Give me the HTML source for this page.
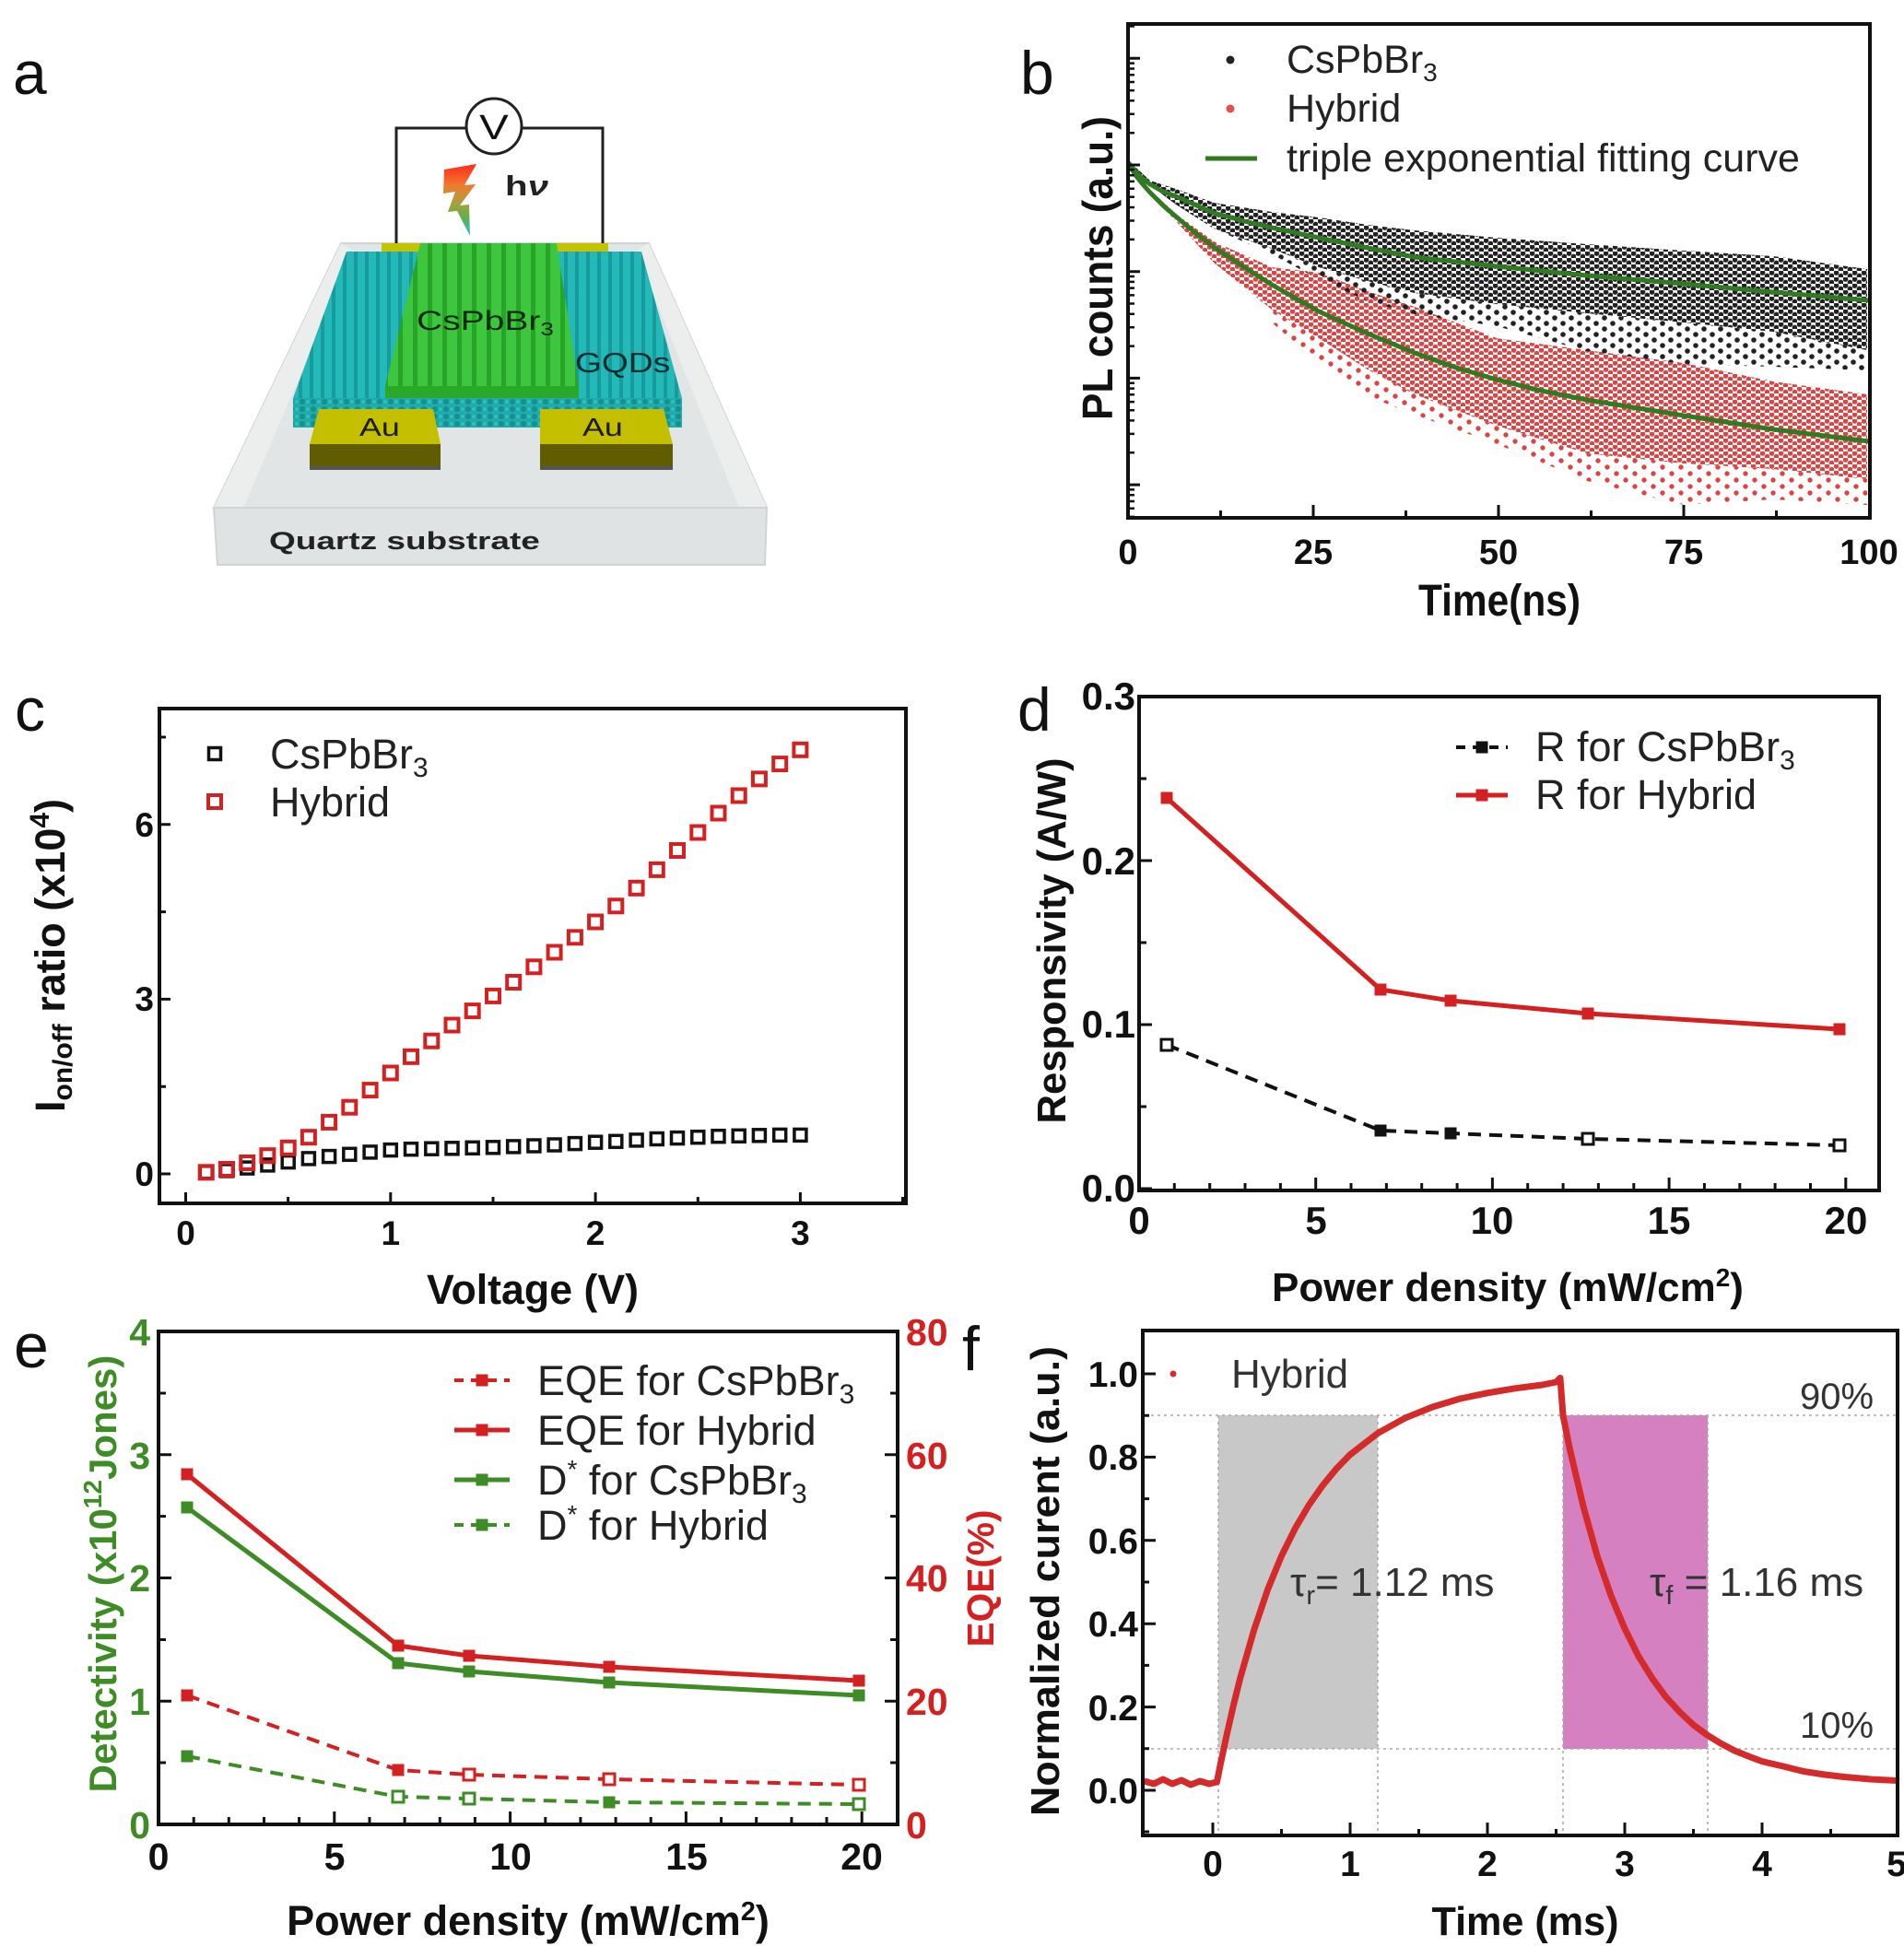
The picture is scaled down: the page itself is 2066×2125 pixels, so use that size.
<!DOCTYPE html>
<html><head><meta charset="utf-8">
<style>
html,body{margin:0;padding:0;background:#fff;}
svg{display:block;}
text{font-family:"Liberation Sans",Arial,sans-serif;}
</style></head><body>
<svg width="2066" height="2125" viewBox="0 0 2066 2125" xmlns="http://www.w3.org/2000/svg">
<defs>
  <linearGradient id="bolt" x1="0" y1="0" x2="0" y2="1">
    <stop offset="0" stop-color="#ff2a1a"/>
    <stop offset="0.3" stop-color="#f07a30"/>
    <stop offset="0.55" stop-color="#a8a040"/>
    <stop offset="0.75" stop-color="#60b048"/>
    <stop offset="1" stop-color="#30b8e8"/>
  </linearGradient>
  <pattern id="gqd" width="12" height="10" patternUnits="userSpaceOnUse">
    <rect width="12" height="10" fill="#25b8b8"/>
    <rect x="0" y="0" width="4" height="10" fill="#169c9c"/>
  </pattern>
  <pattern id="gqdf" width="12" height="8" patternUnits="userSpaceOnUse">
    <rect width="12" height="8" fill="#20aaaa"/>
    <circle cx="4" cy="4" r="3" fill="#168f8f"/>
    <circle cx="10" cy="4" r="2" fill="#2cc0c0"/>
  </pattern>
  <pattern id="csp" width="16" height="10" patternUnits="userSpaceOnUse">
    <rect width="16" height="10" fill="#3ec63e"/>
    <rect x="0" y="0" width="5" height="10" fill="#27a527"/>
  </pattern>
  <pattern id="pk" width="10" height="7" patternUnits="userSpaceOnUse">
    <circle cx="2.5" cy="2" r="2.9" fill="#222"/>
    <circle cx="7.5" cy="5.5" r="2.9" fill="#222"/>
  </pattern>
  <pattern id="pks" width="18" height="12" patternUnits="userSpaceOnUse">
    <circle cx="4" cy="3" r="2.8" fill="#222"/>
    <circle cx="13" cy="9" r="2.8" fill="#222"/>
  </pattern>
  <pattern id="pr" width="10" height="7" patternUnits="userSpaceOnUse">
    <circle cx="2.5" cy="2" r="2.8" fill="#dc4444"/>
    <circle cx="7.5" cy="5.5" r="2.8" fill="#dc4444"/>
  </pattern>
  <pattern id="prs" width="20" height="14" patternUnits="userSpaceOnUse">
    <circle cx="4" cy="3" r="2.7" fill="#dc4444"/>
    <circle cx="14" cy="10" r="2.7" fill="#dc4444"/>
  </pattern>
  <rect id="sqR" x="-7" y="-7" width="14" height="14" fill="none" stroke="#d42020" stroke-width="4"/>
  <rect id="sqK" x="-6.5" y="-6.5" width="13" height="13" fill="none" stroke="#111" stroke-width="3.5"/>
  <rect id="fR" x="-6.5" y="-6.5" width="13" height="13" fill="#d42020"/>
  <rect id="fK" x="-6.5" y="-6.5" width="13" height="13" fill="#111"/>
  <rect id="oK" x="-6" y="-6" width="12" height="12" fill="#fff" stroke="#111" stroke-width="3"/>
  <rect id="fG" x="-6.5" y="-6.5" width="13" height="13" fill="#3d8c26"/>
  <rect id="oR" x="-6" y="-6" width="12" height="12" fill="#fff" stroke="#d42020" stroke-width="3"/>
  <rect id="oG" x="-6" y="-6" width="12" height="12" fill="#fff" stroke="#3d8c26" stroke-width="3"/>
</defs>
<rect width="2066" height="2125" fill="#fff"/>

<!-- Panel labels -->
<g fill="#111">
<text x="14" y="102" font-size="66">a</text>
<text x="1107" y="102" font-size="66">b</text>
<text x="16" y="793" font-size="66">c</text>
<text x="1104" y="793" font-size="66">d</text>
<text x="15" y="1484" font-size="68">e</text>
<text x="1044" y="1487" font-size="68">f</text>
</g>

<!-- ================= Panel a ================= -->
<g>
  <polygon points="370,264 704,264 832,551 232,551" fill="#e2e5e5" stroke="#d0d4d4" stroke-width="2"/>
  <polygon points="370,264 384,272 264,551 232,551" fill="#eceeee"/>
  <polygon points="704,264 690,272 802,551 832,551" fill="#eceeee"/>
  <polygon points="232,551 832,551 830,613 236,613" fill="#e0e3e3" stroke="#d0d4d4" stroke-width="2"/>
  <rect x="414" y="264" width="46" height="14" fill="#c5c200"/>
  <rect x="604" y="264" width="56" height="14" fill="#c5c200"/>
  <polygon points="318,432 740,432 740,464 318,464" fill="url(#gqdf)"/>
  <polygon points="376,273 696,273 740,432 318,432" fill="url(#gqd)"/>
  <polygon points="418,419 628,419 628,432 418,432" fill="#2aa82a"/>
  <polygon points="456,264 604,264 628,419 418,419" fill="url(#csp)"/>
  <polygon points="346,444 470,444 478,482 336,482" fill="#c4c000"/>
  <rect x="336" y="482" width="142" height="24" fill="#5f5d00"/>
  <rect x="336" y="506" width="142" height="4" fill="#555"/>
  <polygon points="586,444 720,444 730,482 586,482" fill="#c4c000"/>
  <rect x="586" y="482" width="144" height="24" fill="#5f5d00"/>
  <rect x="586" y="506" width="144" height="4" fill="#555"/>
  <polyline points="430,264 430,139 506,139" fill="none" stroke="#222" stroke-width="3"/>
  <polyline points="566,139 654,139 654,264" fill="none" stroke="#222" stroke-width="3"/>
  <circle cx="536" cy="137" r="30" fill="#fff" stroke="#222" stroke-width="3"/>
  <text transform="translate(536,151) scale(1.25,1)" text-anchor="middle" font-size="38" fill="#111">V</text>
  <polygon points="482,184 517,178 504,201 516,200 499,223 509,222 510,256 496,229 486,230 494,208 481,210" fill="url(#bolt)"/>
  <text transform="translate(548,212) scale(1.3,1)" font-size="31" font-weight="bold" fill="#222">h<tspan font-style="italic">ν</tspan></text>
  <text transform="translate(452,358) scale(1.3,1)" font-size="30" fill="#0d2a0d">CsPbBr<tspan font-size="20" dy="6">3</tspan></text>
  <text transform="translate(624,404) scale(1.2,1)" font-size="31" fill="#062c2c">GQDs</text>
  <text transform="translate(390,473) scale(1.28,1)" font-size="28" fill="#1a1a00">Au</text>
  <text transform="translate(632,473) scale(1.28,1)" font-size="28" fill="#1a1a00">Au</text>
  <text transform="translate(292,596) scale(1.37,1)" font-size="27" font-weight="bold" fill="#222">Quartz substrate</text>
</g>

<!-- ================= Panel b ================= -->
<g>
  <polygon points="1380,336 1431,367 1484,401 1535,428 1624,462 1722,492 1827,503 1924,509 2026,520 2026,548 1924,542 1827,548 1722,522 1624,482 1535,450 1484,430 1431,395 1380,350" fill="url(#prs)"/>
  <polygon points="1224,174 1248,206 1276,232 1317,262 1380,290 1431,296 1484,316 1535,333 1624,367 1722,380 1827,394 1924,414 2026,428 2026,520 1924,509 1827,503 1722,492 1624,462 1535,428 1484,401 1431,367 1380,336 1317,285 1276,240 1248,212 1224,178" fill="url(#pr)"/>
  <polygon points="1317,248 1380,270 1431,290 1484,305 1535,318 1624,330 1722,340 1827,350 1924,360 2026,380 2026,402 1924,398 1827,395 1722,381 1624,354 1535,341 1484,327 1431,303 1380,276" fill="url(#pks)"/>
  <polygon points="1224,174 1248,196 1276,205 1317,220 1380,230 1431,236 1484,244 1535,250 1624,258 1722,265 1827,272 1924,278 2026,292 2026,380 1924,360 1827,350 1722,340 1624,330 1535,318 1484,305 1431,290 1380,270 1317,248 1276,222 1248,201 1224,178" fill="url(#pk)"/>
  <polyline points="1224,176 1232,186 1240,194 1248,200 1262,208 1276,213 1296,222 1317,231 1350,240 1380,247 1431,258 1484,269 1535,279 1624,289 1722,299 1827,308 1924,317 2028,326" fill="none" stroke="#2f7a22" stroke-width="5" stroke-linejoin="round"/>
  <polyline points="1224,176 1232,190 1240,200 1248,209 1262,223 1276,235 1296,252 1317,268 1350,290 1380,309 1431,338 1484,362 1535,383 1580,399 1624,412 1672,424 1722,434 1827,451 1924,466 2028,479" fill="none" stroke="#2f7a22" stroke-width="5" stroke-linejoin="round"/>
  <rect x="1224" y="26" width="805" height="536" fill="none" stroke="#111" stroke-width="4"/>
  <path d="M1224,63.3h13M1224,179h13M1224,294.7h13M1224,410.4h13M1224,526.1h13" stroke="#111" stroke-width="3"/>
  <path d="M1224,28.5h7M1224,68.6h7M1224,74.5h7M1224,81.2h7M1224,89h7M1224,98.1h7M1224,109.3h7M1224,123.8h7M1224,144.2h7M1224,184.3h7M1224,190.2h7M1224,196.9h7M1224,204.7h7M1224,213.8h7M1224,225h7M1224,239.5h7M1224,259.9h7M1224,300h7M1224,305.9h7M1224,312.6h7M1224,320.4h7M1224,329.5h7M1224,340.7h7M1224,355.2h7M1224,375.6h7M1224,415.7h7M1224,421.6h7M1224,428.3h7M1224,436.1h7M1224,445.2h7M1224,456.4h7M1224,470.9h7M1224,491.3h7M1224,531.4h7M1224,537.3h7M1224,544h7M1224,551.8h7M1224,560.9h7" stroke="#111" stroke-width="2.5"/>
  <path d="M1224,562v-14M1425,562v-14M1626,562v-14M1827,562v-14M1324.5,562v-8M1525.5,562v-8M1726.5,562v-8M1927.5,562v-8" stroke="#111" stroke-width="3"/>
  <g font-size="38" font-weight="bold" text-anchor="middle" fill="#111">
    <text x="1224" y="612">0</text><text x="1425" y="612">25</text><text x="1626" y="612">50</text><text x="1827" y="612">75</text><text x="2028" y="612">100</text>
  </g>
  <text x="1627" y="668" font-size="48" font-weight="bold" text-anchor="middle" textLength="176" lengthAdjust="spacingAndGlyphs" fill="#111">Time(ns)</text>
  <text transform="translate(1207,291) rotate(-90)" font-size="46" font-weight="bold" text-anchor="middle" textLength="330" lengthAdjust="spacingAndGlyphs" fill="#111">PL counts (a.u.)</text>
  <circle cx="1335" cy="65" r="4.5" fill="#222"/>
  <circle cx="1335" cy="118" r="4.5" fill="#e05050"/>
  <line x1="1308" y1="172" x2="1364" y2="172" stroke="#2f7a22" stroke-width="5"/>
  <g font-size="43" fill="#222">
    <text x="1396" y="79">CsPbBr<tspan font-size="28" dy="9">3</tspan></text>
    <text x="1396" y="132">Hybrid</text>
    <text x="1396" y="186">triple exponential fitting curve</text>
  </g>
</g>

<!-- ================= Panel c ================= -->
<g>
  <rect x="173" y="769" width="810" height="537" fill="none" stroke="#111" stroke-width="4"/>
  <path d="M173,1274h12M173,1084.4h12M173,894.8h12M201.5,1306v-12M423.8,1306v-12M646.1,1306v-12M868.4,1306v-12" stroke="#111" stroke-width="3"/>
  <path d="M173,1179.2h7M173,989.6h7M173,800h7M312.6,1306v-7M535,1306v-7M757.3,1306v-7M979.5,1306v-7" stroke="#111" stroke-width="3"/>
  <g>
    <use href="#sqK" x="223.7" y="1272.3"/><use href="#sqK" x="246" y="1270.4"/><use href="#sqK" x="268.2" y="1267.6"/><use href="#sqK" x="290.4" y="1264.4"/><use href="#sqK" x="312.7" y="1261.1"/><use href="#sqK" x="334.9" y="1257.4"/><use href="#sqK" x="357.1" y="1255.1"/><use href="#sqK" x="379.3" y="1252.8"/><use href="#sqK" x="401.6" y="1250.4"/><use href="#sqK" x="423.8" y="1248.1"/><use href="#sqK" x="446" y="1247.2"/><use href="#sqK" x="468.3" y="1246.7"/><use href="#sqK" x="490.5" y="1246.3"/><use href="#sqK" x="512.7" y="1245.8"/><use href="#sqK" x="535" y="1245.3"/><use href="#sqK" x="557.2" y="1244.4"/><use href="#sqK" x="579.4" y="1243.5"/><use href="#sqK" x="601.6" y="1242.5"/><use href="#sqK" x="623.9" y="1241.1"/><use href="#sqK" x="646.1" y="1239.7"/><use href="#sqK" x="668.3" y="1238.8"/><use href="#sqK" x="690.6" y="1237.4"/><use href="#sqK" x="712.8" y="1236"/><use href="#sqK" x="735" y="1235.1"/><use href="#sqK" x="757.3" y="1234.2"/><use href="#sqK" x="779.5" y="1233.2"/><use href="#sqK" x="801.7" y="1232.8"/><use href="#sqK" x="823.9" y="1232.3"/><use href="#sqK" x="846.2" y="1231.9"/><use href="#sqK" x="868.4" y="1231.9"/>
  </g>
  <g>
    <use href="#sqR" x="223.7" y="1272.3"/><use href="#sqR" x="246" y="1269"/><use href="#sqR" x="268.2" y="1262"/><use href="#sqR" x="290.4" y="1254.2"/><use href="#sqR" x="312.7" y="1245.8"/><use href="#sqR" x="334.9" y="1234.2"/><use href="#sqR" x="357.1" y="1217.9"/><use href="#sqR" x="379.3" y="1201.7"/><use href="#sqR" x="401.6" y="1183.1"/><use href="#sqR" x="423.8" y="1164.5"/><use href="#sqR" x="446" y="1146.8"/><use href="#sqR" x="468.3" y="1129.7"/><use href="#sqR" x="490.5" y="1112.5"/><use href="#sqR" x="512.7" y="1097.1"/><use href="#sqR" x="535" y="1080.9"/><use href="#sqR" x="557.2" y="1066"/><use href="#sqR" x="579.4" y="1049.3"/><use href="#sqR" x="601.6" y="1033.5"/><use href="#sqR" x="623.9" y="1017.3"/><use href="#sqR" x="646.1" y="1000.5"/><use href="#sqR" x="668.3" y="983.3"/><use href="#sqR" x="690.6" y="963.8"/><use href="#sqR" x="712.8" y="943.9"/><use href="#sqR" x="735" y="923"/><use href="#sqR" x="757.3" y="903.5"/><use href="#sqR" x="779.5" y="882.5"/><use href="#sqR" x="801.7" y="863.5"/><use href="#sqR" x="823.9" y="845.4"/><use href="#sqR" x="846.2" y="829.1"/><use href="#sqR" x="868.4" y="813.8"/>
  </g>
  <use href="#sqK" x="233" y="818"/>
  <use href="#sqR" x="233" y="870"/>
  <g font-size="45" fill="#222">
    <text x="293" y="834">CsPbBr<tspan font-size="30" dy="9">3</tspan></text>
    <text x="293" y="886">Hybrid</text>
  </g>
  <g font-size="37" font-weight="bold" fill="#111">
    <g text-anchor="middle">
      <text x="201.5" y="1351">0</text><text x="423.8" y="1351">1</text><text x="646.1" y="1351">2</text><text x="868.4" y="1351">3</text>
    </g>
    <g text-anchor="end">
      <text x="167" y="1287">0</text><text x="167" y="1097">3</text><text x="167" y="908">6</text>
    </g>
  </g>
  <text x="578" y="1415" font-size="45" font-weight="bold" text-anchor="middle" textLength="230" lengthAdjust="spacingAndGlyphs" fill="#111">Voltage (V)</text>
  <text transform="translate(70,1037) rotate(-90)" font-size="45" font-weight="bold" text-anchor="middle" fill="#111">I<tspan font-size="30" dy="8">on/off</tspan><tspan dy="-8"> ratio (x10</tspan><tspan font-size="30" dy="-17">4</tspan><tspan dy="17">)</tspan></text>
</g>

<!-- ================= Panel d ================= -->
<g>
  <polyline points="1266,1134 1498,1227 1574,1230 1723,1236 1996,1243" fill="none" stroke="#111" stroke-width="4" stroke-dasharray="14 9"/>
  <polyline points="1266,866 1498,1074 1574,1086 1723,1100 1996,1117" fill="none" stroke="#d42020" stroke-width="5" stroke-linejoin="round"/>
  <use href="#fR" x="1266" y="866"/><use href="#fR" x="1498" y="1074"/><use href="#fR" x="1574" y="1086"/><use href="#fR" x="1723" y="1100"/><use href="#fR" x="1996" y="1117"/>
  <use href="#oK" x="1266" y="1134"/><use href="#fK" x="1498" y="1227"/><use href="#fK" x="1574" y="1230"/><use href="#oK" x="1723" y="1236"/><use href="#oK" x="1996" y="1243"/>
  <rect x="1236" y="756" width="803" height="536" fill="none" stroke="#111" stroke-width="4"/>
  <path d="M1236,1290h14M1236,1112h14M1236,934h14M1236,1201h8M1236,1023h8M1236,845h8" stroke="#111" stroke-width="3"/>
  <path d="M1236,1292v-14M1427.7,1292v-14M1619.4,1292v-14M1811.1,1292v-14M2002.8,1292v-14M1274.3,1292v-8M1312.7,1292v-8M1351,1292v-8M1389.4,1292v-8M1466,1292v-8M1504.4,1292v-8M1542.7,1292v-8M1581.1,1292v-8M1657.7,1292v-8M1696.1,1292v-8M1734.4,1292v-8M1772.8,1292v-8M1849.4,1292v-8M1887.8,1292v-8M1926.1,1292v-8M1964.5,1292v-8" stroke="#111" stroke-width="3"/>
  <g font-size="42" font-weight="bold" fill="#111">
    <g text-anchor="end">
      <text x="1232" y="770">0.3</text><text x="1232" y="949">0.2</text><text x="1232" y="1126">0.1</text><text x="1232" y="1304">0.0</text>
    </g>
    <g text-anchor="middle">
      <text x="1236" y="1339">0</text><text x="1428" y="1339">5</text><text x="1619" y="1339">10</text><text x="1811" y="1339">15</text><text x="2003" y="1339">20</text>
    </g>
  </g>
  <text x="1636" y="1412" font-size="44" font-weight="bold" text-anchor="middle" fill="#111">Power density (mW/cm<tspan font-size="28" dy="-16">2</tspan><tspan dy="16">)</tspan></text>
  <text transform="translate(1156,1021) rotate(-90)" font-size="44" font-weight="bold" text-anchor="middle" textLength="397" lengthAdjust="spacingAndGlyphs" fill="#111">Responsivity (A/W)</text>
  <line x1="1580" y1="811" x2="1636" y2="811" stroke="#111" stroke-width="4" stroke-dasharray="10 8"/>
  <use href="#fK" x="1608" y="811"/>
  <line x1="1580" y1="863" x2="1636" y2="863" stroke="#d42020" stroke-width="5"/>
  <use href="#fR" x="1608" y="863"/>
  <g font-size="45" fill="#222">
    <text x="1666" y="826">R for CsPbBr<tspan font-size="30" dy="9">3</tspan></text>
    <text x="1666" y="878">R for Hybrid</text>
  </g>
</g>

<!-- ================= Panel e ================= -->
<g>
  <polyline points="203,1906 432,1950 509,1952 661,1956 932,1958" fill="none" stroke="#3d8c26" stroke-width="4" stroke-dasharray="14 9"/>
  <polyline points="203,1840 432,1921 509,1926 661,1931 932,1937" fill="none" stroke="#d42020" stroke-width="4" stroke-dasharray="14 9"/>
  <polyline points="203,1636 432,1805 509,1814 661,1826 932,1840" fill="none" stroke="#3d8c26" stroke-width="5" stroke-linejoin="round"/>
  <polyline points="203,1600 432,1786 509,1797 661,1809 932,1824" fill="none" stroke="#d42020" stroke-width="5" stroke-linejoin="round"/>
  <use href="#fG" x="203" y="1906"/><use href="#oG" x="432" y="1950"/><use href="#oG" x="509" y="1952"/><use href="#fG" x="661" y="1956"/><use href="#oG" x="932" y="1958"/>
  <use href="#fR" x="203" y="1840"/><use href="#fR" x="432" y="1921"/><use href="#oR" x="509" y="1926"/><use href="#oR" x="661" y="1931"/><use href="#oR" x="932" y="1937"/>
  <use href="#fG" x="203" y="1636"/><use href="#fG" x="432" y="1805"/><use href="#fG" x="509" y="1814"/><use href="#fG" x="661" y="1826"/><use href="#fG" x="932" y="1840"/>
  <use href="#fR" x="203" y="1600"/><use href="#fR" x="432" y="1786"/><use href="#fR" x="509" y="1797"/><use href="#fR" x="661" y="1809"/><use href="#fR" x="932" y="1824"/>
  <rect x="172" y="1445" width="802" height="535" fill="none" stroke="#111" stroke-width="4"/>
  <path d="M172,1846.3h14M172,1712.5h14M172,1578.8h14M172,1913h8M172,1779.5h8M172,1645.6h8M172,1512h8M974,1846.3h-14M974,1712.5h-14M974,1578.8h-14M974,1913h-8M974,1779.5h-8M974,1645.6h-8M974,1512h-8" stroke="#111" stroke-width="3"/>
  <path d="M172,1980v-14M362.8,1980v-14M553.6,1980v-14M744.4,1980v-14M935.2,1980v-14M210.2,1980v-8M248.3,1980v-8M286.5,1980v-8M324.6,1980v-8M401,1980v-8M439.1,1980v-8M477.3,1980v-8M515.4,1980v-8M591.8,1980v-8M629.9,1980v-8M668.1,1980v-8M706.2,1980v-8M782.6,1980v-8M820.7,1980v-8M858.9,1980v-8M897,1980v-8" stroke="#111" stroke-width="3"/>
  <g font-size="41" font-weight="bold">
    <g text-anchor="end" fill="#3d8c26">
      <text x="163" y="1995">0</text><text x="163" y="1861">1</text><text x="163" y="1727">2</text><text x="163" y="1594">3</text><text x="163" y="1460">4</text>
    </g>
    <g fill="#d42020">
      <text x="983" y="1995">0</text><text x="983" y="1861">20</text><text x="983" y="1727">40</text><text x="983" y="1594">60</text><text x="983" y="1460">80</text>
    </g>
    <g text-anchor="middle" fill="#111">
      <text x="172" y="2029">0</text><text x="363" y="2029">5</text><text x="554" y="2029">10</text><text x="745" y="2029">15</text><text x="935" y="2029">20</text>
    </g>
  </g>
  <text x="573" y="2100" font-size="45" font-weight="bold" text-anchor="middle" fill="#111">Power density (mW/cm<tspan font-size="29" dy="-16">2</tspan><tspan dy="16">)</tspan></text>
  <text transform="translate(126,1708) rotate(-90)" font-size="42" font-weight="bold" text-anchor="middle" fill="#3d8c26">Detectivity (x10<tspan font-size="28" dy="-16">12</tspan><tspan dy="16">Jones)</tspan></text>
  <text transform="translate(1078,1713) rotate(-90)" font-size="41" font-weight="bold" text-anchor="middle" textLength="149" lengthAdjust="spacingAndGlyphs" fill="#d42020">EQE(%)</text>
  <line x1="493" y1="1498" x2="553" y2="1498" stroke="#d42020" stroke-width="4" stroke-dasharray="10 8"/>
  <use href="#fR" x="523" y="1498"/>
  <line x1="493" y1="1552" x2="553" y2="1552" stroke="#d42020" stroke-width="5"/>
  <use href="#fR" x="523" y="1552"/>
  <line x1="493" y1="1606" x2="553" y2="1606" stroke="#3d8c26" stroke-width="5"/>
  <use href="#fG" x="523" y="1606"/>
  <line x1="493" y1="1655" x2="553" y2="1655" stroke="#3d8c26" stroke-width="4" stroke-dasharray="10 8"/>
  <use href="#fG" x="523" y="1655"/>
  <g font-size="45" fill="#222">
    <text x="583" y="1514">EQE for CsPbBr<tspan font-size="30" dy="9">3</tspan></text>
    <text x="583" y="1568">EQE for Hybrid</text>
    <text x="583" y="1622">D<tspan font-size="28" dy="-18">*</tspan><tspan dy="18"> for CsPbBr</tspan><tspan font-size="30" dy="9">3</tspan></text>
    <text x="583" y="1671">D<tspan font-size="28" dy="-18">*</tspan><tspan dy="18"> for Hybrid</tspan></text>
  </g>
</g>

<!-- ================= Panel f ================= -->
<g>
  <rect x="1322" y="1536" width="173" height="362" fill="#c8c8c8"/>
  <rect x="1696" y="1536" width="157" height="362" fill="#d581c1"/>
  <path d="M1242,1536H2058M1242,1898H2058M1322,1536V1992M1495,1536V1992M1696,1536V1992M1853,1536V1992" stroke="#aaa" stroke-width="1.6" stroke-dasharray="3 4" fill="none"/>
  <polyline points="1241.5,1933 1252,1936 1262,1931 1272,1936 1282,1932 1292,1937 1302,1933 1312,1936 1320.5,1934 1323.5,1918.6 1331,1883.3 1338.4,1850.8 1345.8,1821 1360.7,1769 1375.6,1725 1390.5,1688.7 1405.4,1658.7 1420.3,1633.4 1435.2,1612.1 1450.1,1594 1465,1578.7 1494.8,1555.6 1524.6,1539 1554.4,1527 1584.2,1518 1614,1511.8 1643.8,1506.8 1673.6,1503 1688.5,1500 1693,1495.5 1696,1536.2 1703.4,1572.8 1718.3,1636 1733.2,1689 1748.1,1732 1763,1767.6 1777.9,1797.5 1792.8,1821.5 1807.7,1841.8 1822.6,1858 1837.5,1872 1852.4,1883 1867,1892 1882.2,1900 1897,1906 1912,1911.6 1935,1917 1956.7,1922.4 1980,1926 2001.4,1928.5 2030,1931 2061,1932.6" fill="none" stroke="#d42a2a" stroke-width="7" stroke-linejoin="round"/>
  <rect x="1240" y="1444" width="819" height="548" fill="none" stroke="#111" stroke-width="4"/>
  <path d="M1240,1943h14M1240,1852.6h14M1240,1762.2h14M1240,1671.8h14M1240,1581.4h14M1240,1491h14M1240,1988h7M1240,1897.8h7M1240,1807.4h7M1240,1717h7M1240,1626.6h7M1240,1536.2h7" stroke="#111" stroke-width="3"/>
  <path d="M1316,1992v-14M1465,1992v-14M1614,1992v-14M1763,1992v-14M1912,1992v-14M1390.5,1992v-7M1539.5,1992v-7M1688.5,1992v-7M1837.5,1992v-7M1986.5,1992v-7" stroke="#111" stroke-width="3"/>
  <g font-size="39" font-weight="bold" fill="#111">
    <g text-anchor="end">
      <text x="1235" y="1957">0.0</text><text x="1235" y="1867">0.2</text><text x="1235" y="1776">0.4</text><text x="1235" y="1686">0.6</text><text x="1235" y="1595">0.8</text><text x="1235" y="1505">1.0</text>
    </g>
    <g text-anchor="middle">
      <text x="1316" y="2036">0</text><text x="1465" y="2036">1</text><text x="1614" y="2036">2</text><text x="1763" y="2036">3</text><text x="1912" y="2036">4</text><text x="2058" y="2036">5</text>
    </g>
  </g>
  <text x="1655" y="2100" font-size="44" font-weight="bold" text-anchor="middle" textLength="203" lengthAdjust="spacingAndGlyphs" fill="#111">Time (ms)</text>
  <text transform="translate(1149,1716) rotate(-90)" font-size="44" font-weight="bold" text-anchor="middle" textLength="510" lengthAdjust="spacingAndGlyphs" fill="#111">Normalized curent (a.u.)</text>
  <circle cx="1273" cy="1491" r="3.5" fill="#d42a2a"/>
  <g fill="#333">
    <text x="1336" y="1506" font-size="44">Hybrid</text>
    <text x="1953" y="1529" font-size="40">90%</text>
    <text x="1953" y="1886" font-size="40">10%</text>
    <text x="1400" y="1732" font-size="44">τ<tspan font-size="29" dy="9">r</tspan><tspan dy="-9">= 1.12 ms</tspan></text>
    <text x="1790" y="1732" font-size="44">τ<tspan font-size="29" dy="9">f</tspan><tspan dy="-9"> = 1.16 ms</tspan></text>
  </g>
</g>
</svg>
</body></html>
